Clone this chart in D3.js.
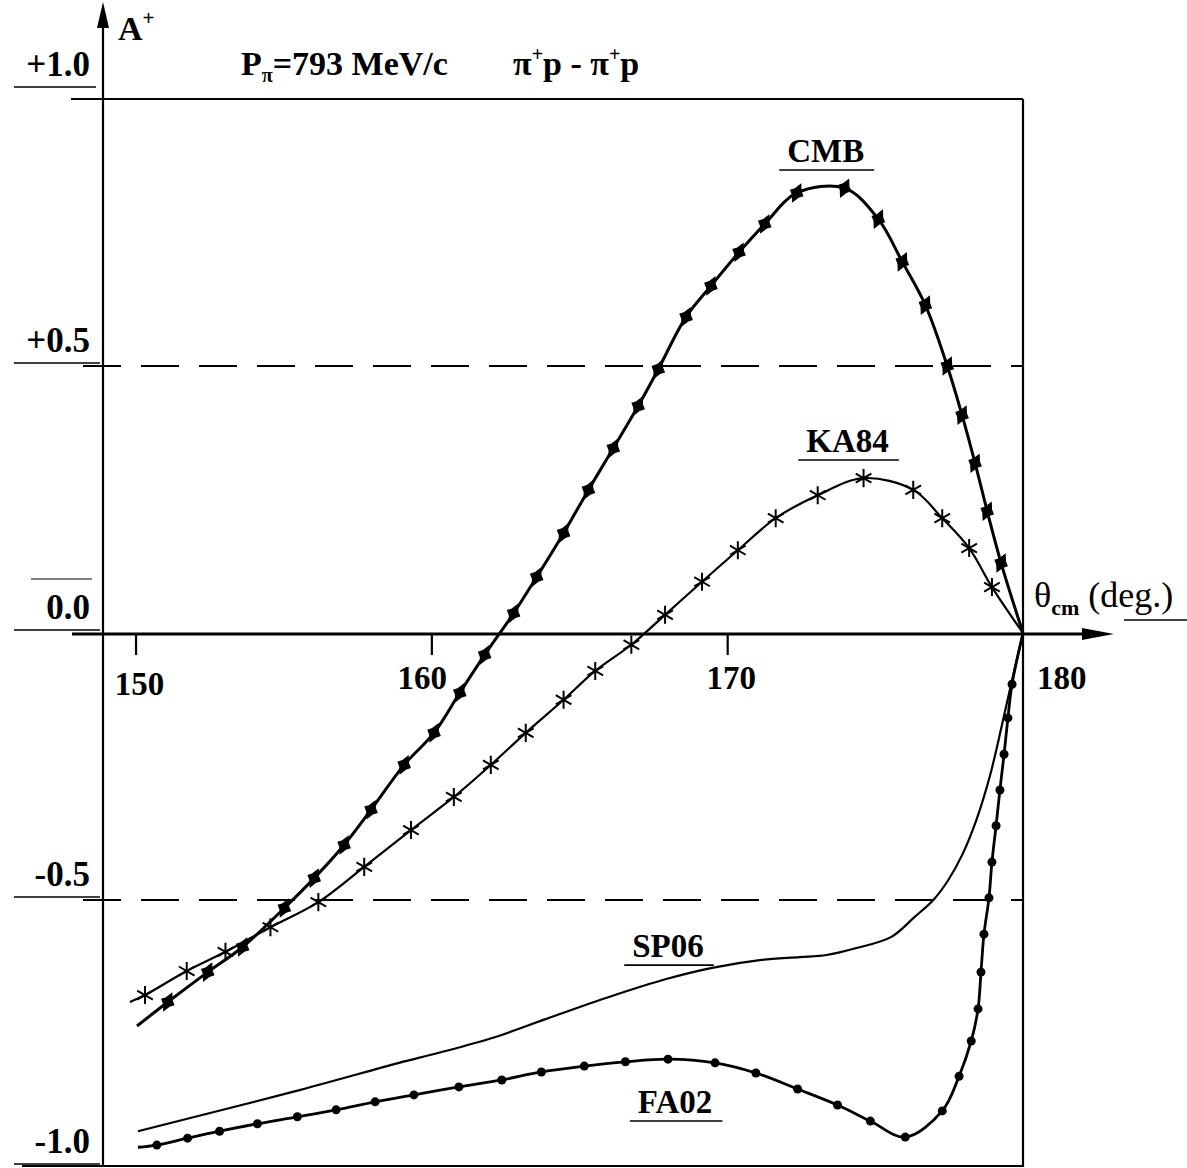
<!DOCTYPE html>
<html><head><meta charset="utf-8">
<script src="https://cdn.jsdelivr.net/npm/d3@7"></script>
<style>
html,body{margin:0;padding:0;background:#fff;}
svg{display:block;}
text{font-family:"Liberation Serif","DejaVu Serif",serif;fill:#000;}
</style></head><body>
<svg id="chart" width="1187" height="1168"></svg>
<script>
// ---------- data ----------
const xTicks = [150, 160, 170, 180];
const yTickValues = [1.0, 0.5, 0.0, -0.5, -1.0];
const yTickLabels = ["+1.0", "+0.5", "0.0", "-0.5", "-1.0"];
const dashedLevels = [0.5, -0.5];

const cmbTheta = [150.05,151.09,152.44,153.62,155.03,156.04,157.05,157.96,159.08,160.09,160.96,161.80,162.78,163.56,164.47,165.31,166.15,166.99,167.67,168.61,169.45,170.40,171.27,172.35,173.97,175.11,175.92,176.70,177.44,177.94,178.38,178.79,179.26,180];
const cmbA = [-0.736,-0.691,-0.635,-0.588,-0.515,-0.459,-0.397,-0.331,-0.247,-0.187,-0.112,-0.041,0.037,0.105,0.187,0.268,0.346,0.425,0.494,0.592,0.650,0.713,0.766,0.824,0.833,0.775,0.695,0.614,0.500,0.408,0.318,0.228,0.131,0];

const ka84Theta = [149.81,150.32,151.73,153.04,154.56,156.18,157.73,159.31,160.76,162.01,163.19,164.47,165.54,166.76,167.90,169.15,170.36,171.64,173.06,174.61,176.29,177.27,178.18,178.95,180];
const ka84A = [-0.691,-0.678,-0.633,-0.597,-0.551,-0.504,-0.438,-0.369,-0.307,-0.247,-0.187,-0.125,-0.071,-0.022,0.034,0.096,0.155,0.215,0.258,0.290,0.268,0.215,0.159,0.086,0];

const sp06Theta = [150.08,155.54,158.91,160.19,162.14,164.06,165.98,167.94,169.49,171.17,172.45,173.36,174.37,175.55,176.33,176.97,177.47,177.94,178.45,178.89,179.29,179.63,180];
const sp06A = [-0.933,-0.856,-0.805,-0.787,-0.757,-0.719,-0.682,-0.648,-0.627,-0.612,-0.607,-0.603,-0.590,-0.569,-0.532,-0.500,-0.463,-0.416,-0.346,-0.266,-0.172,-0.088,0];

const fa02Theta = [150.08,150.72,151.76,152.84,154.12,155.47,156.78,158.10,159.41,160.93,162.38,163.72,165.17,166.56,168.00,169.59,170.97,172.38,173.73,174.84,176.02,177.27,177.84,178.25,178.48,178.58,178.68,178.85,178.95,179.09,179.22,179.36,179.49,179.63,180];
const fa02A = [-0.963,-0.959,-0.946,-0.933,-0.919,-0.906,-0.893,-0.878,-0.865,-0.850,-0.837,-0.822,-0.811,-0.803,-0.798,-0.805,-0.824,-0.854,-0.884,-0.914,-0.944,-0.895,-0.830,-0.764,-0.704,-0.635,-0.564,-0.496,-0.429,-0.361,-0.294,-0.227,-0.159,-0.096,0];

const seriesNames = ["CMB", "KA84", "SP06", "FA02"];

// ---------- scales ----------
const thetaMin = 148.9, thetaMax = 180;
const x = d3.scaleLinear().domain([thetaMin, thetaMax]).range([103, 1023]);
const y = d3.scaleLinear().domain([-1, 1]).range([1167, 99]);

const svg = d3.select("#chart");

// ---------- frame ----------
const frame = svg.append("g").attr("stroke", "#000").attr("fill", "none");
frame.append("line").attr("x1", 71).attr("x2", x(180)).attr("y1", y(1)).attr("y2", y(1)).attr("stroke-width", 2);
frame.append("line").attr("x1", x(180)).attr("x2", x(180)).attr("y1", y(1)).attr("y2", y(-1)).attr("stroke-width", 2.2);
frame.append("line").attr("x1", 22).attr("x2", x(180) + 1).attr("y1", y(-1) - 1).attr("y2", y(-1) - 1).attr("stroke-width", 2.2);
frame.append("line").attr("x1", x(thetaMin)).attr("x2", x(thetaMin)).attr("y1", 22).attr("y2", y(-1)).attr("stroke-width", 2.2);
svg.append("path")
  .attr("d", d3.line()([[x(thetaMin), 2], [x(thetaMin) - 6, 28], [x(thetaMin) + 6, 28]]) + "Z")
  .attr("fill", "#000");
frame.append("line").attr("x1", 72).attr("x2", 1090).attr("y1", y(0) + 1).attr("y2", y(0) + 1).attr("stroke-width", 2.8);
svg.append("path")
  .attr("d", d3.line()([[1114, y(0) + 1], [1082, y(0) - 5], [1082, y(0) + 7]]) + "Z")
  .attr("fill", "#000");

// dashed lines
svg.selectAll("line.dash").data(dashedLevels).join("line")
  .attr("class", "dash")
  .attr("x1", x(thetaMin) - 20).attr("x2", x(180))
  .attr("y1", d => y(d)).attr("y2", d => y(d))
  .attr("stroke", "#000").attr("stroke-width", 2)
  .attr("stroke-dasharray", "38,20");

// x ticks via d3 axis
const xAxis = d3.axisBottom(x).tickValues(xTicks.filter(t => t < 180)).tickSize(22).tickFormat("");
const gx = svg.append("g").attr("transform", `translate(0,${y(0)})`).call(xAxis);
gx.select(".domain").remove();
gx.selectAll(".tick line").attr("stroke", "#000").attr("stroke-width", 2.2);

// x tick labels
svg.selectAll("text.xlab").data(xTicks).join("text")
  .attr("class", "xlab")
  .attr("x", d => d === 180 ? x(d) + 14 : x(d) + (d === 160 ? -9 : 4))
  .attr("y", d => y(0) + (d === 150 ? 62 : 56))
  .attr("text-anchor", d => d === 180 ? "start" : "middle")
  .attr("font-weight", "bold").attr("font-size", 33)
  .text(d => d);

// y tick labels
svg.selectAll("text.ylab").data(yTickValues).join("text")
  .attr("class", "ylab")
  .attr("x", 90)
  .attr("y", d => y(d) - (d === 1 ? 23 : 14))
  .attr("text-anchor", "end")
  .attr("font-weight", "bold").attr("font-size", 35)
  .text((d, i) => yTickLabels[i]);
svg.selectAll("line.yul").data(yTickValues).join("line")
  .attr("class", "yul")
  .attr("x1", 14).attr("x2", d => d === 1 ? 96 : 100)
  .attr("y1", d => y(d) - (d === 1 ? 12 : 3)).attr("y2", d => y(d) - (d === 1 ? 12 : 3))
  .attr("stroke", "#000").attr("stroke-width", 1.6);
svg.append("line").attr("x1", 31).attr("x2", 92).attr("y1", y(0) - 54).attr("y2", y(0) - 54)
  .attr("stroke", "#000").attr("stroke-width", 1.2);

// axis titles
const at = svg.append("text").attr("x", 118).attr("y", 40).attr("font-weight", "bold").attr("font-size", 34);
at.append("tspan").text("A");
at.append("tspan").attr("dy", -15).attr("font-size", 21).text("+");

const xt = svg.append("text").attr("x", 1034).attr("y", 607).attr("font-size", 36);
xt.append("tspan").text("θ");
xt.append("tspan").attr("dy", 8).attr("font-size", 22).attr("font-weight", "bold").text("cm");
xt.append("tspan").attr("dy", -8).text(" (deg.)");
svg.append("line").attr("x1", 1124).attr("x2", 1187).attr("y1", 620).attr("y2", 620).attr("stroke", "#000").attr("stroke-width", 1.5);

// title
const t1 = svg.append("text").attr("x", 241).attr("y", 75).attr("font-weight", "bold").attr("font-size", 34);
t1.append("tspan").text("P");
t1.append("tspan").attr("dy", 7).attr("font-size", 20).text("π");
t1.append("tspan").attr("dy", -7).text("=793 MeV/c");
const t2 = svg.append("text").attr("x", 513).attr("y", 75).attr("font-weight", "bold").attr("font-size", 34);
t2.append("tspan").text("π");
t2.append("tspan").attr("dy", -14).attr("font-size", 20).text("+");
t2.append("tspan").attr("dy", 14).text("p - π");
t2.append("tspan").attr("dy", -14).attr("font-size", 20).text("+");
t2.append("tspan").attr("dy", 14).text("p");

// ---------- curves ----------
const line = d3.line().x(d => x(d[0])).y(d => y(d[1])).curve(d3.curveCatmullRom.alpha(0.5));
const zip = (a, b) => a.map((v, i) => [v, b[i]]);
const cmb = zip(cmbTheta, cmbA), ka = zip(ka84Theta, ka84A), sp = zip(sp06Theta, sp06A), fa = zip(fa02Theta, fa02A);

svg.append("path").attr("d", line(sp)).attr("fill", "none").attr("stroke", "#000").attr("stroke-width", 2.2);
svg.append("path").attr("d", line(fa)).attr("fill", "none").attr("stroke", "#000").attr("stroke-width", 2.8);
svg.append("path").attr("d", line(ka)).attr("fill", "none").attr("stroke", "#000").attr("stroke-width", 2.2);
svg.append("path").attr("d", line(cmb)).attr("fill", "none").attr("stroke", "#000").attr("stroke-width", 3);

// markers
const star4 = {
  draw(ctx, size) {
    const r = Math.sqrt(size), w = r * 0.34;
    ctx.moveTo(0, -r); ctx.lineTo(w, -w); ctx.lineTo(r * 0.7, 0); ctx.lineTo(w, w);
    ctx.lineTo(0, r); ctx.lineTo(-w, w); ctx.lineTo(-r * 0.7, 0); ctx.lineTo(-w, -w); ctx.closePath();
  }
};
svg.append("g").selectAll("path").data(cmb.slice(1, -1)).join("path")
  .attr("d", d3.symbol().type(star4).size(90))
  .attr("transform", d => `translate(${x(d[0])},${y(d[1])}) rotate(25)`)
  .attr("fill", "#000").attr("stroke", "#000").attr("stroke-width", 1.2);

svg.append("g").selectAll("path").data(ka.slice(1, -1)).join("path")
  .attr("d", d3.symbol().type(d3.symbolAsterisk).size(230))
  .attr("transform", d => `translate(${x(d[0])},${y(d[1])})`)
  .attr("fill", "none").attr("stroke", "#000").attr("stroke-width", 2);

svg.append("g").selectAll("circle").data(fa.slice(1, -1)).join("circle")
  .attr("cx", d => x(d[0])).attr("cy", d => y(d[1])).attr("r", 4.5)
  .attr("fill", "#000");

// ---------- series labels ----------
const labelPos = [[173.33, 0.882], [174.07, 0.339], [168.0, -0.607], [168.24, -0.899]];
seriesNames.forEach((name, i) => {
  const t = svg.append("text")
    .attr("x", x(labelPos[i][0])).attr("y", y(labelPos[i][1]))
    .attr("text-anchor", "middle").attr("font-weight", "bold").attr("font-size", 33)
    .text(name);
  const bb = t.node().getBBox();
  svg.append("line")
    .attr("x1", bb.x - 8).attr("x2", bb.x + bb.width + 10)
    .attr("y1", y(labelPos[i][1]) + 8).attr("y2", y(labelPos[i][1]) + 8)
    .attr("stroke", "#000").attr("stroke-width", 1.6);
});
</script>
</body></html>
